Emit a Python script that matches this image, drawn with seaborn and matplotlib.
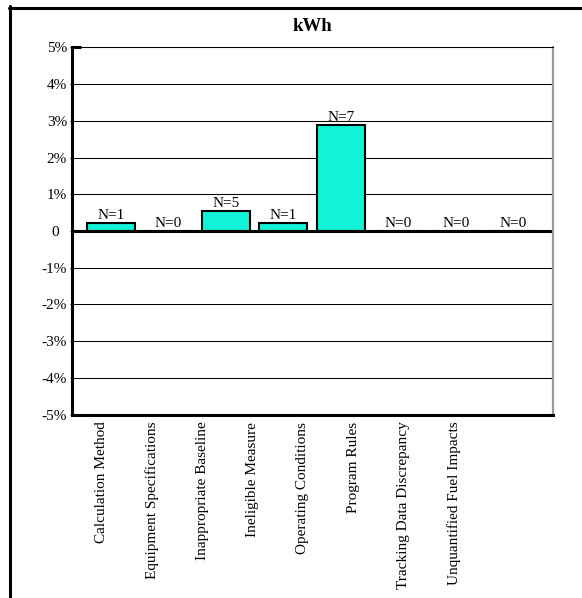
import matplotlib
matplotlib.use("Agg")
import matplotlib.pyplot as plt
from matplotlib.lines import Line2D
import pandas as pd
import seaborn as sns

# Categories of discrepancy and their kWh impact (percent) with sample counts
categories = [
    "Calculation Method",
    "Equipment Specifications",
    "Inappropriate Baseline",
    "Ineligible Measure",
    "Operating Conditions",
    "Program Rules",
    "Tracking Data Discrepancy",
    "Unquantified Fuel Impacts",
]
impact_pct = [0.21, 0.0, 0.55, 0.21, 2.88, 0.0, 0.0, 0.0]
counts = [1, 0, 5, 1, 7, 0, 0, 0]
y_ticks = [-5, -4, -3, -2, -1, 0, 1, 2, 3, 4, 5]
y_tick_labels = ["-5%", "-4%", "-3%", "-2%", "-1%", "0  ", "1%", "2%", "3%", "4%", "5%"]

sns.set_theme(style="white")
plt.rcParams["font.family"] = ["Liberation Serif", "DejaVu Serif"]
plt.rcParams.update({
    "text.color": "black",
    "axes.labelcolor": "black",
    "xtick.color": "black",
    "ytick.color": "black",
    "xtick.labelcolor": "black",
    "ytick.labelcolor": "black",
})

df = pd.DataFrame({"category": categories, "impact": impact_pct})

fig = plt.figure(figsize=(5.82, 5.98), dpi=100)
ax = fig.add_axes([0.1229, 0.3065, 0.8273, 0.6144])

sns.barplot(data=df, x="category", y="impact", ax=ax, color="#11F3D6",
            saturation=1, width=0.835, edgecolor="black", linewidth=1.5,
            zorder=3)

ax.set_xlim(-0.6876, 7.694)
ax.set_ylim(-5, 5)

# horizontal gridlines and heavy zero line
for yv in y_ticks:
    if yv != 0:
        ax.axhline(yv, color="black", linewidth=0.75, zorder=1)
ax.axhline(0, color="black", linewidth=2.2, zorder=4)

ax.set_yticks(y_ticks)
ax.set_yticklabels(y_tick_labels, fontsize=11, color="black")
ax.tick_params(axis="y", length=1.5, width=0.75, color="black", pad=1.8,
               left=True)

# category labels, rotated
tick_pos = [-0.162 + 0.8756 * i for i in range(len(categories))]
ax.set_xticks(tick_pos)
ax.set_xticklabels(categories, rotation=90, fontsize=11, ha="center",
                   va="top", color="black")
ax.tick_params(axis="x", length=0, pad=5)

ax.set_xlabel("")
ax.set_ylabel("")

# count annotations above each bar
for i, (v, n) in enumerate(zip(impact_pct, counts)):
    ax.annotate(f"N={n}", xy=(i, v), xytext=(0, 3), textcoords="offset points",
                ha="center", va="baseline", fontsize=11, color="black",
                zorder=5)

ax.set_title("kWh", fontsize=13.5, fontweight="bold", pad=12, color="black")

for side in ["left", "bottom"]:
    ax.spines[side].set_color("black")
    ax.spines[side].set_linewidth(2.2)
ax.spines["top"].set_color("black")
ax.spines["top"].set_linewidth(0.75)
ax.spines["right"].set_color("#9a9a9a")
ax.spines["right"].set_linewidth(1.6)
for s in ax.spines.values():
    s.set_visible(True)
    s.set_zorder(6)

# short heavy stub at the top-left corner of the plot frame
ax.plot([0, 0.02], [5, 5], transform=ax.get_yaxis_transform(), color="black",
        linewidth=2.2, solid_capstyle="butt", clip_on=False, zorder=6)

# outer frame (left and top edges)
W, H = 582, 598
fig.add_artist(Line2D([10.5 / W, 10.5 / W], [1 - 6 / H, 0], color="black",
                      linewidth=2.2, transform=fig.transFigure))
fig.add_artist(Line2D([9 / W, 1], [1 - 7.5 / H, 1 - 7.5 / H], color="black",
                      linewidth=2.2, transform=fig.transFigure))

fig.savefig("out.png", dpi=100, facecolor="white")
